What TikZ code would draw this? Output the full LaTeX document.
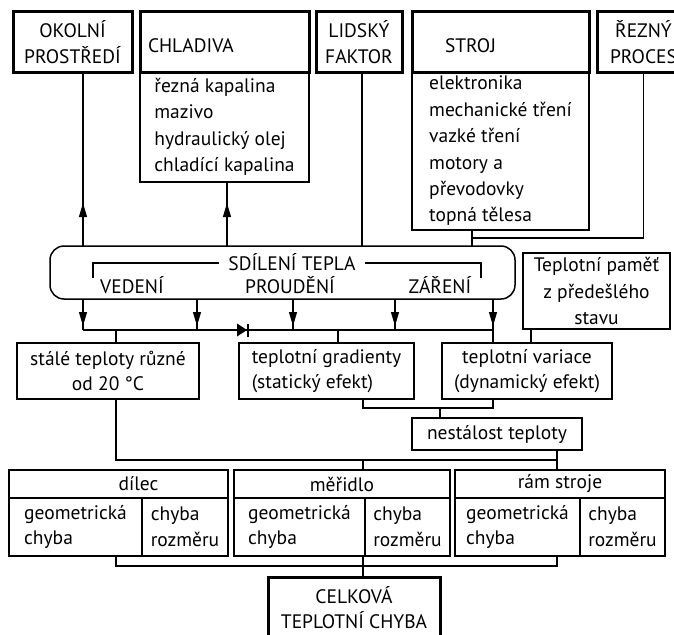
\documentclass[tikz,border=0pt]{standalone}
\usepackage{fontspec}
\setmainfont{PT Sans}
\usetikzlibrary{arrows.meta,decorations.markings}

\begin{document}
\begin{tikzpicture}[x=1pt,y=-1pt,
  every node/.style={font=\fontsize{19.5}{25.5}\selectfont, inner sep=0pt, outer sep=0pt},
  hlavni/.style={draw, line width=3pt, align=center, anchor=north west},
  ramec/.style={draw, line width=1.2pt, anchor=north west},
  seznam/.style={ramec, align=left, font=\fontsize{19.5}{26.4}\selectfont},
  spoj/.style={line width=1.1pt},
  sipka/.style={spoj, postaction={decorate, decoration={markings,
      mark=at position #1 with {\arrow{Triangle[length=14pt,width=8pt]}}}}}]
  \useasboundingbox (0,0) rectangle (674,634);
  \clip (0,0) rectangle (674,634);
  %% vodici body spoju
  \coordinate (gA) at (83,0);
  \coordinate (gB) at (227,0);
  \coordinate (gC) at (362,0);
  \coordinate (gD) at (472,0);
  \coordinate (gE) at (116,0);
  \coordinate (gF) at (338,0);
  \coordinate (gG) at (493,0);
  \coordinate (gH) at (531,0);
  \coordinate (gI) at (363,0);
  \coordinate (gJ) at (440,0);
  \coordinate (gK) at (557,0);
  \coordinate (rezJ) at (0,238);
  \coordinate (busA) at (0,330);
  \coordinate (busB) at (0,408);
  \coordinate (busC) at (0,460);
  \coordinate (busD) at (0,566);
  %% horni rada zdroju tepla
  \node[hlavni, minimum width=119pt, minimum height=60pt] (okolni) at (13,12) {OKOLNÍ\\PROSTŘEDÍ};
  \node[hlavni, minimum height=60pt, text width=153pt, inner xsep=8pt, align=left, text height=21pt] (chlad) at (140,12) {CHLADIVA};
  \node[seznam, minimum width=169pt, minimum height=110pt] (chladlist) at (chlad.south west) {řezná kapalina\\mazivo\\hydraulický olej\\chladící kapalina};
  \node[hlavni, minimum width=86pt, minimum height=60pt] (lidsky) at (316,12) {LIDSKÝ\\FAKTOR};
  \node[hlavni, minimum height=60pt, text width=111pt, inner xsep=33pt, align=left, text height=21pt] (stroj) at (412,12) {STROJ};
  \node[seznam, minimum width=177pt, minimum height=158pt] (strojlist) at (stroj.south west) {elektronika\\mechanické tření\\vazké tření\\motory a\\převodovky\\topná tělesa};
  \node[hlavni, minimum width=93pt, minimum height=60pt] (rezny) at (597,12) {ŘEZNÝ\\PROCES};
  %% sdileni tepla
  \node[draw, line width=1.5pt, rounded corners=14pt, minimum width=465pt, minimum height=53pt, anchor=north west] (sdileni) at (50,246) {};
  \node[anchor=base, inner xsep=9pt] (sdtext) at (292,270) {SDÍLENÍ TEPLA};
  \node[anchor=base] (vedeni) at (132,293) {VEDENÍ};
  \node[anchor=base] (proudeni) at (290,293) {PROUDĚNÍ};
  \node[anchor=base] (zareni) at (440,293) {ZÁŘENÍ};
  \coordinate (zavL) at (93,278);
  \coordinate (zavR) at (481,278);
  \draw[spoj] (sdtext.west |- 0,263) -| (zavL);
  \draw[spoj] (sdtext.east |- 0,263) -| (zavR);
  %% teplotni stavy
  \node[ramec, minimum width=182pt, minimum height=56pt, align=center] (stale) at (17,343) {stálé teploty různé\\od 20 °C};
  \node[ramec, minimum width=175pt, minimum height=56pt, align=left] (grad) at (239,343) {teplotní gradienty\\(statický efekt)};
  \node[ramec, minimum width=170pt, minimum height=56pt, align=center] (var) at (442,343) {teplotní variace\\(dynamický efekt)};
  \node[ramec, minimum width=147pt, minimum height=76pt, align=center, font=\fontsize{19.5}{26.4}\selectfont] (pamet) at (523,253) {Teplotní paměť\\z předešlého\\stavu};
  \node[ramec, minimum width=170pt, minimum height=32pt] (nest) at (412,418) {nestálost teploty};
  %% chyby
  \node[ramec, minimum width=219pt, minimum height=28pt] (dilech) at (9,470) {\hspace*{40pt}dílec};
  \node[ramec, minimum width=133pt, minimum height=58pt, align=left] (dilecg) at (9,498) {geometrická\\chyba};
  \node[ramec, minimum width=86pt, minimum height=58pt, align=left] (dilecr) at (142,498) {chyba\\rozměru};
  \node[ramec, minimum width=216pt, minimum height=28pt] (merh) at (234,470) {měřidlo};
  \node[ramec, minimum width=131pt, minimum height=58pt, align=left] (merg) at (234,498) {geometrická\\chyba};
  \node[ramec, minimum width=85pt, minimum height=58pt, align=left] (merr) at (365,498) {chyba\\rozměru};
  \node[ramec, minimum width=210pt, minimum height=28pt] (ramh) at (455,470) {rám stroje};
  \node[ramec, minimum width=125pt, minimum height=58pt, align=left] (ramg) at (455,498) {geometrická\\chyba};
  \node[ramec, minimum width=85pt, minimum height=58pt, align=left] (ramr) at (580,498) {chyba\\rozměru};
  \node[hlavni, minimum width=172pt, minimum height=61pt] (celk) at (268,577) {CELKOVÁ\\TEPLOTNÍ CHYBA};
  %% spoje nahore
  \draw[sipka=43pt] (sdileni.north -| gA) -- (okolni.south -| gA);
  \draw[sipka=43pt] (sdileni.north -| gB) -- (chladlist.south -| gB);
  \draw[spoj] (sdileni.north -| gC) -- (lidsky.south -| gC);
  \draw[spoj] (sdileni.north -| gD) -- (strojlist.south -| gD);
  \draw[spoj] (rezny.south) |- (rezJ -| gD);
  %% sipky dolu a sbernice
  \foreach \x in {83,197,293,395,493} {
    \coordinate (d) at (\x,330);
    \draw[sipka=27pt] (sdileni.south -| d) -- (d);
  }
  \draw[spoj] (busA -| gA) -- (busA -| gG);
  \coordinate (dioda) at (247,330);
  \fill (dioda) ++(-10,-6.5) -- (dioda) -- ++(-10,6.5) -- cycle;
  \draw[line width=2pt] (dioda) ++(0.5,-6.5) -- ++(0,13);
  \draw[spoj] (busA -| gE) -- (stale.north -| gE);
  \draw[spoj] (busA -| gF) -- (grad.north -| gF);
  \draw[spoj] (busA -| gG) -- (var.north -| gG);
  \draw[spoj] (pamet.south -| gH) -- (var.north -| gH);
  \draw[spoj] (grad.south -| gI) |- (busB -| gG) -- (var.south -| gG);
  \draw[spoj] (busB -| gJ) -- (nest.north -| gJ);
  \draw[spoj] (nest.south -| gK) -- (ramh.north -| gK);
  \draw[spoj] (stale.south -| gE) |- (busC -| gK);
  \draw[spoj] (busC -| gI) -- (merh.north -| gI);
  %% spoje dole
  \draw[spoj] (dilecg.south -| gE) |- (busD -| gK) -- (ramg.south -| gK);
  \draw[spoj] (merg.south -| gI) -- (celk.north -| gI);
\end{tikzpicture}
\end{document}
